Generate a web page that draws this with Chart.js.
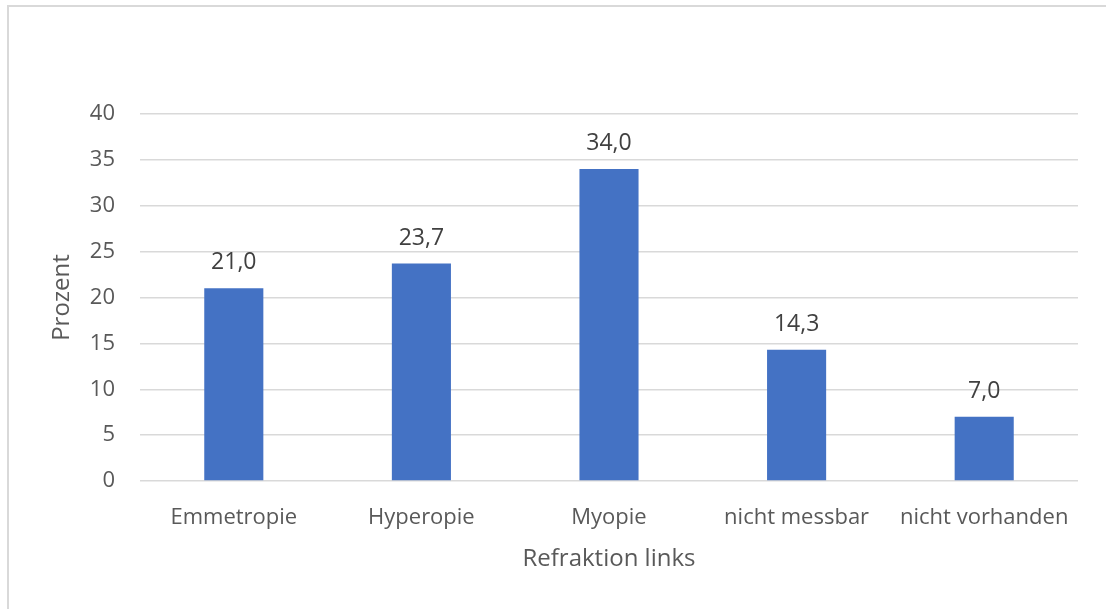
<!DOCTYPE html>
<html lang="de">
<head>
<meta charset="utf-8">
<title>Refraktion links</title>
<script src="https://cdn.jsdelivr.net/npm/chart.js@4"></script>
<style>
  html, body { margin: 0; padding: 0; background: #fff; overflow: hidden; }
  #frame {
    position: absolute; left: 7px; top: 5px; width: 1200px; height: 700px;
    border: 2px solid #d9d9d9; box-sizing: border-box;
  }
  #refraction-chart { position: absolute; left: 0; top: 0; }
</style>
</head>
<body>
<div id="frame"></div>
<canvas id="refraction-chart" width="1106" height="609"></canvas>
<script>
const categories = ["Emmetropie", "Hyperopie", "Myopie", "nicht messbar", "nicht vorhanden"];
const percentValues = [21.0, 23.7, 34.0, 14.3, 7.0];
const yTicks = [0, 5, 10, 15, 20, 25, 30, 35, 40];

const FONT = "'Open Sans', 'Liberation Sans', sans-serif";
const GREY = "#595959";

// writes the value above each bar, german decimal comma
const barLabels = {
    id: "barLabels",
    afterDatasetsDraw(chart) {
        const ctx = chart.ctx;
        const meta = chart.getDatasetMeta(0);
        ctx.save();
        ctx.font = "23px " + FONT;
        ctx.fillStyle = "#404040";
        ctx.textAlign = "center";
        ctx.textBaseline = "alphabetic";
        meta.data.forEach((bar, i) => {
            const txt = percentValues[i].toFixed(1).replace(".", ",");
            ctx.fillText(txt, bar.x, bar.y - 19);
        });
        ctx.restore();
    }
};

const cnv = document.getElementById("refraction-chart");
const ctx = cnv.getContext("2d");

const refractionChart = new Chart(ctx, {
    type: "bar",
    data: {
        labels: categories,
        datasets: [{
            label: "Prozent",
            data: percentValues,
            backgroundColor: "#4472c4",
            borderWidth: 0,
            barPercentage: 0.315,
            categoryPercentage: 1
        }]
    },
    options: {
        responsive: false,
        animation: false,
        layout: { padding: { left: 30, right: 28, top: 114, bottom: 0 } },
        plugins: {
            legend: { display: false },
            tooltip: { enabled: false }
        },
        scales: {
            x: {
                grid: { display: false, drawTicks: false },
                border: { display: false },
                ticks: { color: GREY, font: { family: FONT, size: 22 }, padding: 24 },
                title: {
                    display: true,
                    text: "Refraktion links",
                    color: GREY,
                    font: { family: FONT, size: 24 },
                    padding: { top: 0, bottom: 35 }
                },
                afterFit(scale) { scale.height = 128; }
            },
            y: {
                min: 0,
                max: 40,
                afterBuildTicks(scale) { scale.ticks = yTicks.map(v => ({ value: v })); },
                grid: { color: "#d9d9d9", lineWidth: 1.5, drawTicks: false },
                border: { display: false },
                ticks: { color: GREY, font: { family: FONT, size: 22 }, padding: 25 },
                title: {
                    display: true,
                    text: "Prozent",
                    color: GREY,
                    font: { family: FONT, size: 24 },
                    padding: { top: 18, bottom: 0 }
                },
                afterFit(scale) { scale.width = 110; }
            }
        }
    },
    plugins: [barLabels]
});
</script>
</body>
</html>
